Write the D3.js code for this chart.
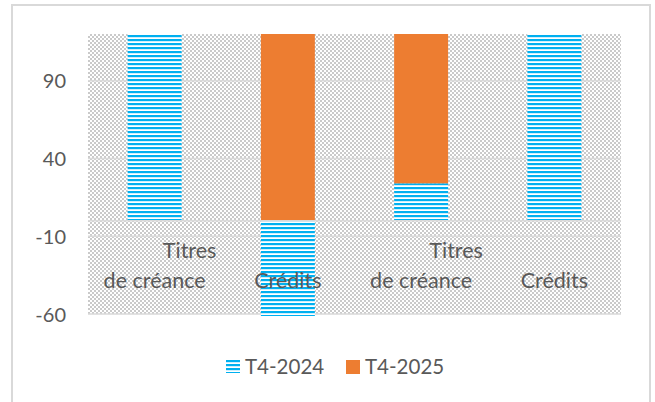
<!DOCTYPE html>
<html>
<head>
<meta charset="utf-8">
<script src="https://cdn.jsdelivr.net/npm/d3@7"></script>
<style>
  body { margin: 0; background: #fff; }
  text { font-family: Lato, "Open Sans", sans-serif; fill: #595959; }
</style>
</head>
<body>
<div id="chart"></div>
<script>
// data (bars above 120 / below -60 run past the axis and are cut)
var categories = ["Titres de créance", "Crédits", "Titres de créance", "Crédits"];
var labelLines = [["Titres", "de créance"], ["Crédits"], ["Titres", "de créance"], ["Crédits"]];
var seriesNames = ["T4-2024", "T4-2025"];
var t4_2024 = [128, -62, 24, 128];
var t4_2025 = [0, 130, 105, 0];
var yTicks = [-60, -10, 40, 90];
var yDomain = [-60, 120];

var WIDTH = 655, HEIGHT = 402;
var plot = {left: 88, right: 621, top: 34, bottom: 314};
var BLUE = "#00b0f0", ORANGE = "#ed7d31", GRID = "#d9d9d9";

var svg = d3.select("#chart").append("svg")
    .attr("width", WIDTH)
    .attr("height", HEIGHT);

var defs = svg.append("defs");

// gray checker behind the plot
var chk = defs.append("pattern").attr("id", "checker")
    .attr("patternUnits", "userSpaceOnUse")
    .attr("width", 4).attr("height", 4);
chk.append("rect").attr("width", 4).attr("height", 4).attr("fill", "#fff");
chk.append("rect").attr("width", 2).attr("height", 2).attr("fill", "#cacaca");
chk.append("rect").attr("x", 2).attr("y", 2).attr("width", 2).attr("height", 2).attr("fill", "#cacaca");

// horizontal stripes for T4-2024
function stripes(id, y0) {
    var p = defs.append("pattern").attr("id", id)
        .attr("patternUnits", "userSpaceOnUse")
        .attr("width", 4).attr("height", 4)
        .attr("y", y0);
    p.append("rect").attr("width", 4).attr("height", 4).attr("fill", "#fff");
    p.append("rect").attr("width", 4).attr("height", 2.2).attr("fill", BLUE);
}
stripes("stripes", plot.top + 1);
stripes("stripesLegend", 360);

defs.append("clipPath").attr("id", "plotclip")
    .append("rect")
    .attr("x", plot.left).attr("y", plot.top)
    .attr("width", plot.right - plot.left)
    .attr("height", plot.bottom - plot.top + 2);

// outer frame
svg.append("rect")
    .attr("x", 12).attr("y", 5)
    .attr("width", 638).attr("height", 400)
    .attr("fill", "#fff")
    .attr("stroke", GRID)
    .attr("stroke-width", 2);

var x = d3.scaleBand()
    .domain(d3.range(categories.length))
    .range([plot.left, plot.right])
    .paddingInner(0.595)
    .paddingOuter(0.2975);

var y = d3.scaleLinear()
    .domain(yDomain)
    .range([plot.bottom, plot.top]);

// background
svg.append("rect")
    .attr("x", plot.left).attr("y", plot.top)
    .attr("width", plot.right - plot.left)
    .attr("height", plot.bottom - plot.top)
    .attr("fill", "url(#checker)");

// gridlines
svg.append("g").selectAll("line")
    .data(yTicks)
    .enter().append("line")
    .attr("x1", plot.left).attr("x2", plot.right)
    .attr("y1", function (d) { return y(d); })
    .attr("y2", function (d) { return y(d); })
    .attr("stroke", GRID)
    .attr("stroke-width", 1.5);

// y axis labels
var yAxis = d3.axisLeft(y).tickValues(yTicks).tickSize(0).tickPadding(0)
    .tickFormat(function (d) { return String(d); });
svg.append("g")
    .attr("transform", "translate(66,0)")
    .call(yAxis)
    .call(function (g) {
        g.select(".domain").remove();
        g.selectAll("text")
            .attr("font-size", 20)
            .attr("fill", "#595959")
            .attr("font-family", "Lato, sans-serif")
            .attr("dy", "0.35em");
    });

// stacked bars
var rows = categories.map(function (c, i) {
    return {"T4-2024": t4_2024[i], "T4-2025": t4_2025[i], idx: i};
});
var stack = d3.stack().keys(seriesNames).offset(d3.stackOffsetDiverging);
var layers = stack(rows);
var fills = {"T4-2024": "url(#stripes)", "T4-2025": ORANGE};

var bars = svg.append("g").attr("clip-path", "url(#plotclip)");
bars.selectAll("g")
    .data(layers)
    .enter().append("g")
    .attr("fill", function (d) { return fills[d.key]; })
    .selectAll("rect")
    .data(function (d) { return d.filter(function (p) { return p[1] !== p[0]; }); })
    .enter().append("rect")
    .attr("x", function (d) { return x(d.data.idx); })
    .attr("width", x.bandwidth())
    .attr("y", function (d) { return y(Math.max(d[0], d[1])); })
    .attr("height", function (d) { return Math.abs(y(d[0]) - y(d[1])); });

// zero line
svg.append("line")
    .attr("x1", plot.left).attr("x2", plot.right)
    .attr("y1", y(0)).attr("y2", y(0))
    .attr("stroke", GRID)
    .attr("stroke-width", 1.5);

// category labels (inside plot, under the zero line)
var labels = svg.append("g");
labelLines.forEach(function (lines, i) {
    var cx = x(i) + x.bandwidth() / 2;
    lines.forEach(function (t, j) {
        var lastLine = j === lines.length - 1;
        labels.append("text")
            .attr("x", cx + (lastLine ? 0 : 35))
            .attr("y", lastLine ? 288 : 258)
            .attr("text-anchor", "middle")
            .attr("font-size", 21.5)
            .text(t);
    });
});

// legend
var legend = svg.append("g");
legend.append("rect")
    .attr("x", 226).attr("y", 360).attr("width", 14).attr("height", 13)
    .attr("fill", "url(#stripesLegend)");
legend.append("text").attr("x", 245).attr("y", 374).attr("font-size", 20.5).text(seriesNames[0]);
legend.append("rect")
    .attr("x", 346).attr("y", 360).attr("width", 14).attr("height", 14)
    .attr("fill", ORANGE);
legend.append("text").attr("x", 365).attr("y", 374).attr("font-size", 20.5).text(seriesNames[1]);
</script>
</body>
</html>
